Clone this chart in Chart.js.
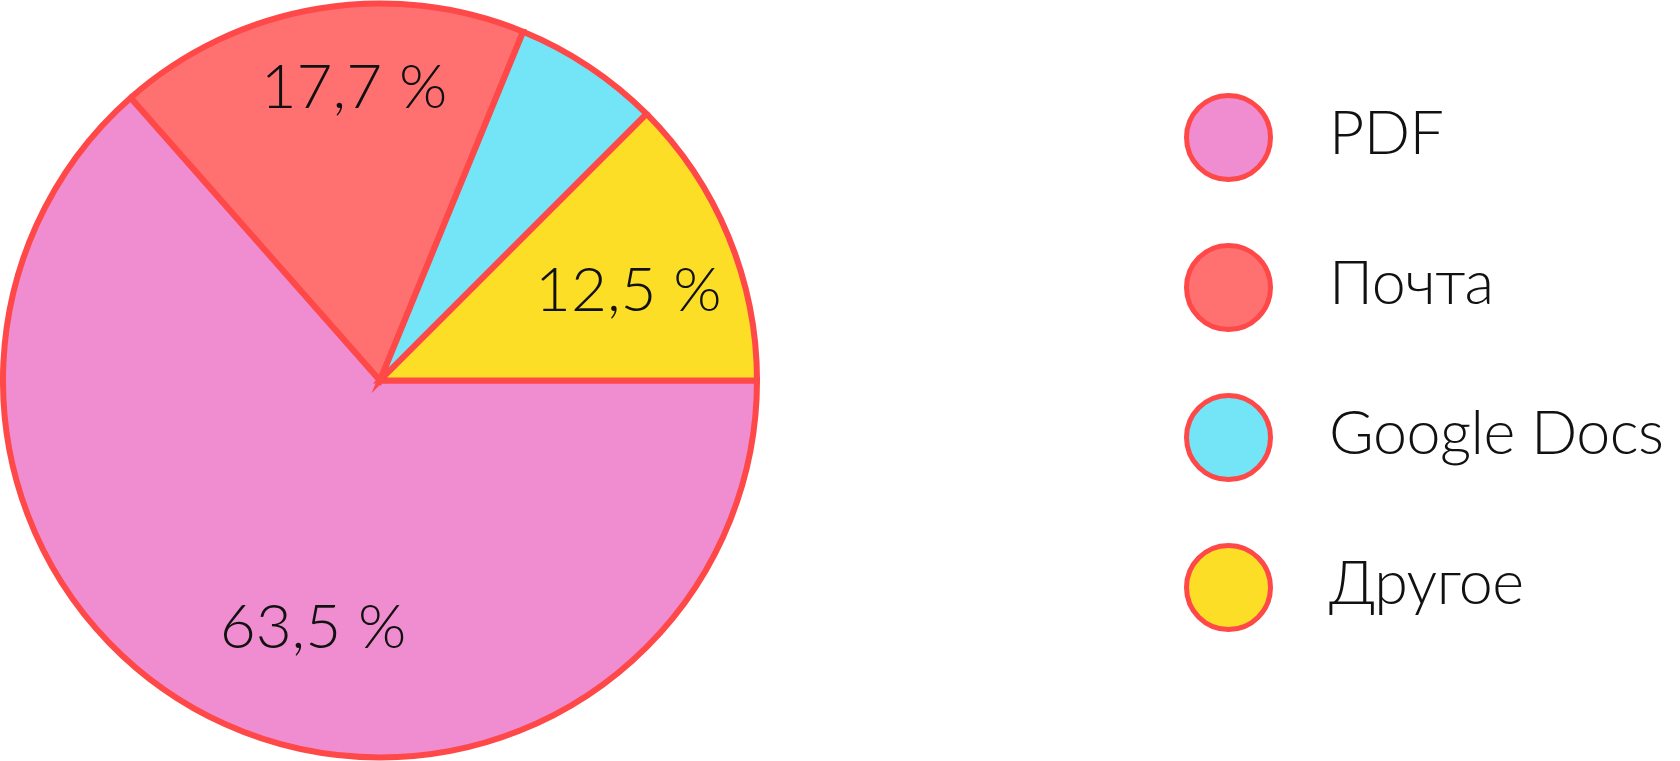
<!DOCTYPE html>
<html lang="ru">
<head>
<meta charset="utf-8">
<script src="https://cdn.jsdelivr.net/npm/chart.js@4.4.1/dist/chart.umd.min.js"></script>
<style>
  html, body { margin: 0; padding: 0; background: #fff; }
  body { width: 1680px; height: 761px; position: relative; overflow: hidden; font-family: "Lato", "Roboto", sans-serif; }
  #pieWrap { position: absolute; left: 0; top: 0; width: 760px; height: 761px; }
  #legend { position: absolute; left: 1184px; top: 92px; }
  .legend-row { display: flex; align-items: center; height: 90px; margin-bottom: 60px; }
  .legend-dot { width: 79px; height: 79px; border-radius: 50%; border: 5.5px solid #ff4848; flex: none; }
  .legend-text { margin-left: 56px; font-size: 61px; font-weight: 300; color: #111; line-height: 1; white-space: nowrap; position: relative; top: -7px; letter-spacing: -0.5px; }
</style>
</head>
<body>
<div id="pieWrap"><canvas id="pieChart"></canvas></div>
<div id="legend"></div>
<script>
// data
const categories = ["PDF", "Почта", "Google Docs", "Другое"];
const shares = [63.5, 17.7, 6.3, 12.5];
const sliceColors = ["#ef8dd0", "#ff7171", "#74e4f7", "#fdde26"];
const edgeColor = "#ff4848";

// where each percent label sits: share of the slice's sweep, share of the radius
const labelSpots = [
  { t: 0.46, r: 0.68 },
  { t: 0.57, r: 0.78 },
  null,
  { t: 0.56, r: 0.7 },
];

function formatShare(v) {
  return v.toFixed(1).replace(".", ",") + " %";
}

// percent labels inside the slices (the thin slice stays unlabeled)
const sliceLabels = {
  id: "sliceLabels",
  afterDatasetsDraw(chart) {
    const ctx = chart.ctx;
    const meta = chart.getDatasetMeta(0);
    ctx.save();
    ctx.font = "300 62px Lato, Roboto, sans-serif";
    ctx.fillStyle = "#111";
    ctx.textAlign = "center";
    ctx.textBaseline = "middle";
    meta.data.forEach((arc, i) => {
      const spot = labelSpots[i];
      if (!spot) return;
      const p = arc.getProps(["x", "y", "startAngle", "endAngle", "outerRadius"], true);
      const a = p.startAngle + (p.endAngle - p.startAngle) * spot.t;
      const r = p.outerRadius * spot.r;
      ctx.fillText(formatShare(shares[i]), p.x + Math.cos(a) * r, p.y + Math.sin(a) * r);
    });
    ctx.restore();
  },
};

function initPie() {
  const canvas = document.getElementById("pieChart");
  return new Chart(canvas.getContext("2d"), {
    type: "pie",
    data: {
      labels: categories,
      datasets: [
        {
          data: shares,
          backgroundColor: sliceColors,
          borderColor: edgeColor,
          borderWidth: 6,
          borderJoinStyle: "miter",
        },
      ],
    },
    options: {
      responsive: true,
      maintainAspectRatio: false,
      animation: false,
      rotation: 90,
      layout: { padding: 0 },
      plugins: {
        legend: { display: false },
        tooltip: { enabled: false },
      },
    },
    plugins: [sliceLabels],
  });
}

function buildLegend() {
  const box = document.getElementById("legend");
  categories.forEach((name, i) => {
    const row = document.createElement("div");
    row.className = "legend-row";
    row.innerHTML =
      '<div class="legend-dot" style="background:' + sliceColors[i] + '"></div>' +
      '<div class="legend-text">' + name + "</div>";
    box.appendChild(row);
  });
}

buildLegend();
initPie();
</script>
</body>
</html>
